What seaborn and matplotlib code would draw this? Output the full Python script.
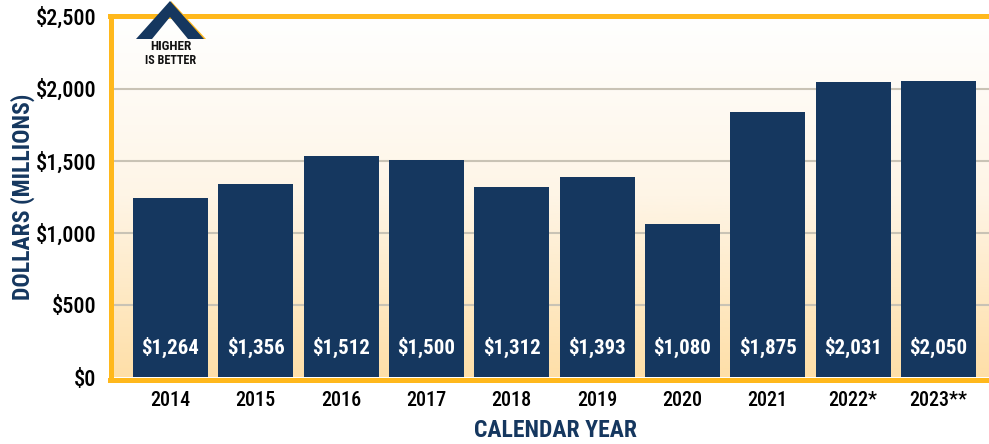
import numpy as np
import pandas as pd
import matplotlib
matplotlib.use('Agg')
import matplotlib.pyplot as plt
from matplotlib.colors import LinearSegmentedColormap
from matplotlib.patches import Polygon
import seaborn as sns

years = ['2014', '2015', '2016', '2017', '2018', '2019', '2020', '2021', '2022*', '2023**']
bar_heights = [1241, 1338, 1533, 1505, 1318, 1387, 1061, 1838, 2046, 2053]
bar_labels = ['$1,264', '$1,356', '$1,512', '$1,500', '$1,312', '$1,393', '$1,080', '$1,875', '$2,031', '$2,050']
y_ticks = [0, 500, 1000, 1500, 2000, 2500]

NAVY = '#15375F'
GOLD = '#FFB81C'
W, H = 989, 444

sns.set_theme(style='white')
plt.rcParams['font.family'] = ['Roboto Condensed', 'DejaVu Sans']

df = pd.DataFrame({'year': years, 'value': bar_heights})

fig = plt.figure(figsize=(W / 100, H / 100), dpi=100)
ax = fig.add_axes([110.5 / W, 1 - 377 / H, (W + 5 - 110.5) / W, (377 - 16.5) / H])

sns.barplot(data=df, x='year', y='value', color=NAVY, saturation=1, width=0.879, ax=ax,
            zorder=3, edgecolor='none', linewidth=0)

# background fade
fade = LinearSegmentedColormap.from_list('fade', ['#FFFFFF', '#FEF5E6', '#FEDFA8'])
ax.imshow(np.linspace(0, 1, 256).reshape(-1, 1), cmap=fade, aspect='auto', zorder=0,
          extent=[-0.703, 9.651, 0, 2500], origin='upper')
ax.set_xlim(-0.703, 9.651)
ax.set_ylim(0, 2500)

ax.set_yticks(y_ticks)
ax.set_yticklabels([f'${v:,}' for v in y_ticks], fontsize=16, fontweight='medium')
for v in y_ticks[1:-1]:
    ax.axhline(v, color='#C9C3B5', lw=1.5, zorder=1)

for s in ['left', 'top', 'bottom']:
    ax.spines[s].set_color(GOLD)
    ax.spines[s].set_linewidth(3.6)
    ax.spines[s].set_zorder(4)
ax.spines['right'].set_visible(False)
ax.spines['bottom'].set_position(('outward', 1.8))

ax.tick_params(axis='both', length=0, labelcolor='black')
ax.tick_params(axis='x', pad=8, labelsize=14.5)
ax.tick_params(axis='y', pad=10)
for t in ax.get_xticklabels():
    t.set_fontweight('medium')
ax.set_xlabel('')
ax.set_ylabel('')

for i, lab in enumerate(bar_labels):
    ax.text(i, 205, lab, color='white', fontsize=15, fontweight='bold',
            ha='center', va='center', zorder=5)

fig.text(23 / W, 1 - 197 / H, 'DOLLARS (MILLIONS)', color=NAVY, fontsize=17, fontweight='bold',
         rotation=90, ha='center', va='center')
fig.text(556 / W, 1 - 430 / H, 'CALENDAR YEAR', color=NAVY, fontsize=17, fontweight='bold',
         ha='center', va='center')

# higher is better chevron
def px(points):
    return [(x / W, 1 - y / H) for x, y in points]

fig.add_artist(Polygon(px([(171, 1), (206, 39), (190, 39), (171, 18)]), color=GOLD, lw=0, zorder=6))
fig.add_artist(Polygon(px([(170, 1), (204, 39), (188, 39), (170, 17), (152, 39), (136, 39)]),
                       color=NAVY, lw=0, zorder=7))
fig.text(171 / W, 1 - 46 / H, 'HIGHER', color='#111111', fontsize=9.5, fontweight='bold',
         ha='center', va='center', zorder=7)
fig.text(171 / W, 1 - 60 / H, 'IS BETTER', color='#111111', fontsize=8.7, fontweight='bold',
         ha='center', va='center', zorder=7)

fig.savefig('out.png', dpi=100)
